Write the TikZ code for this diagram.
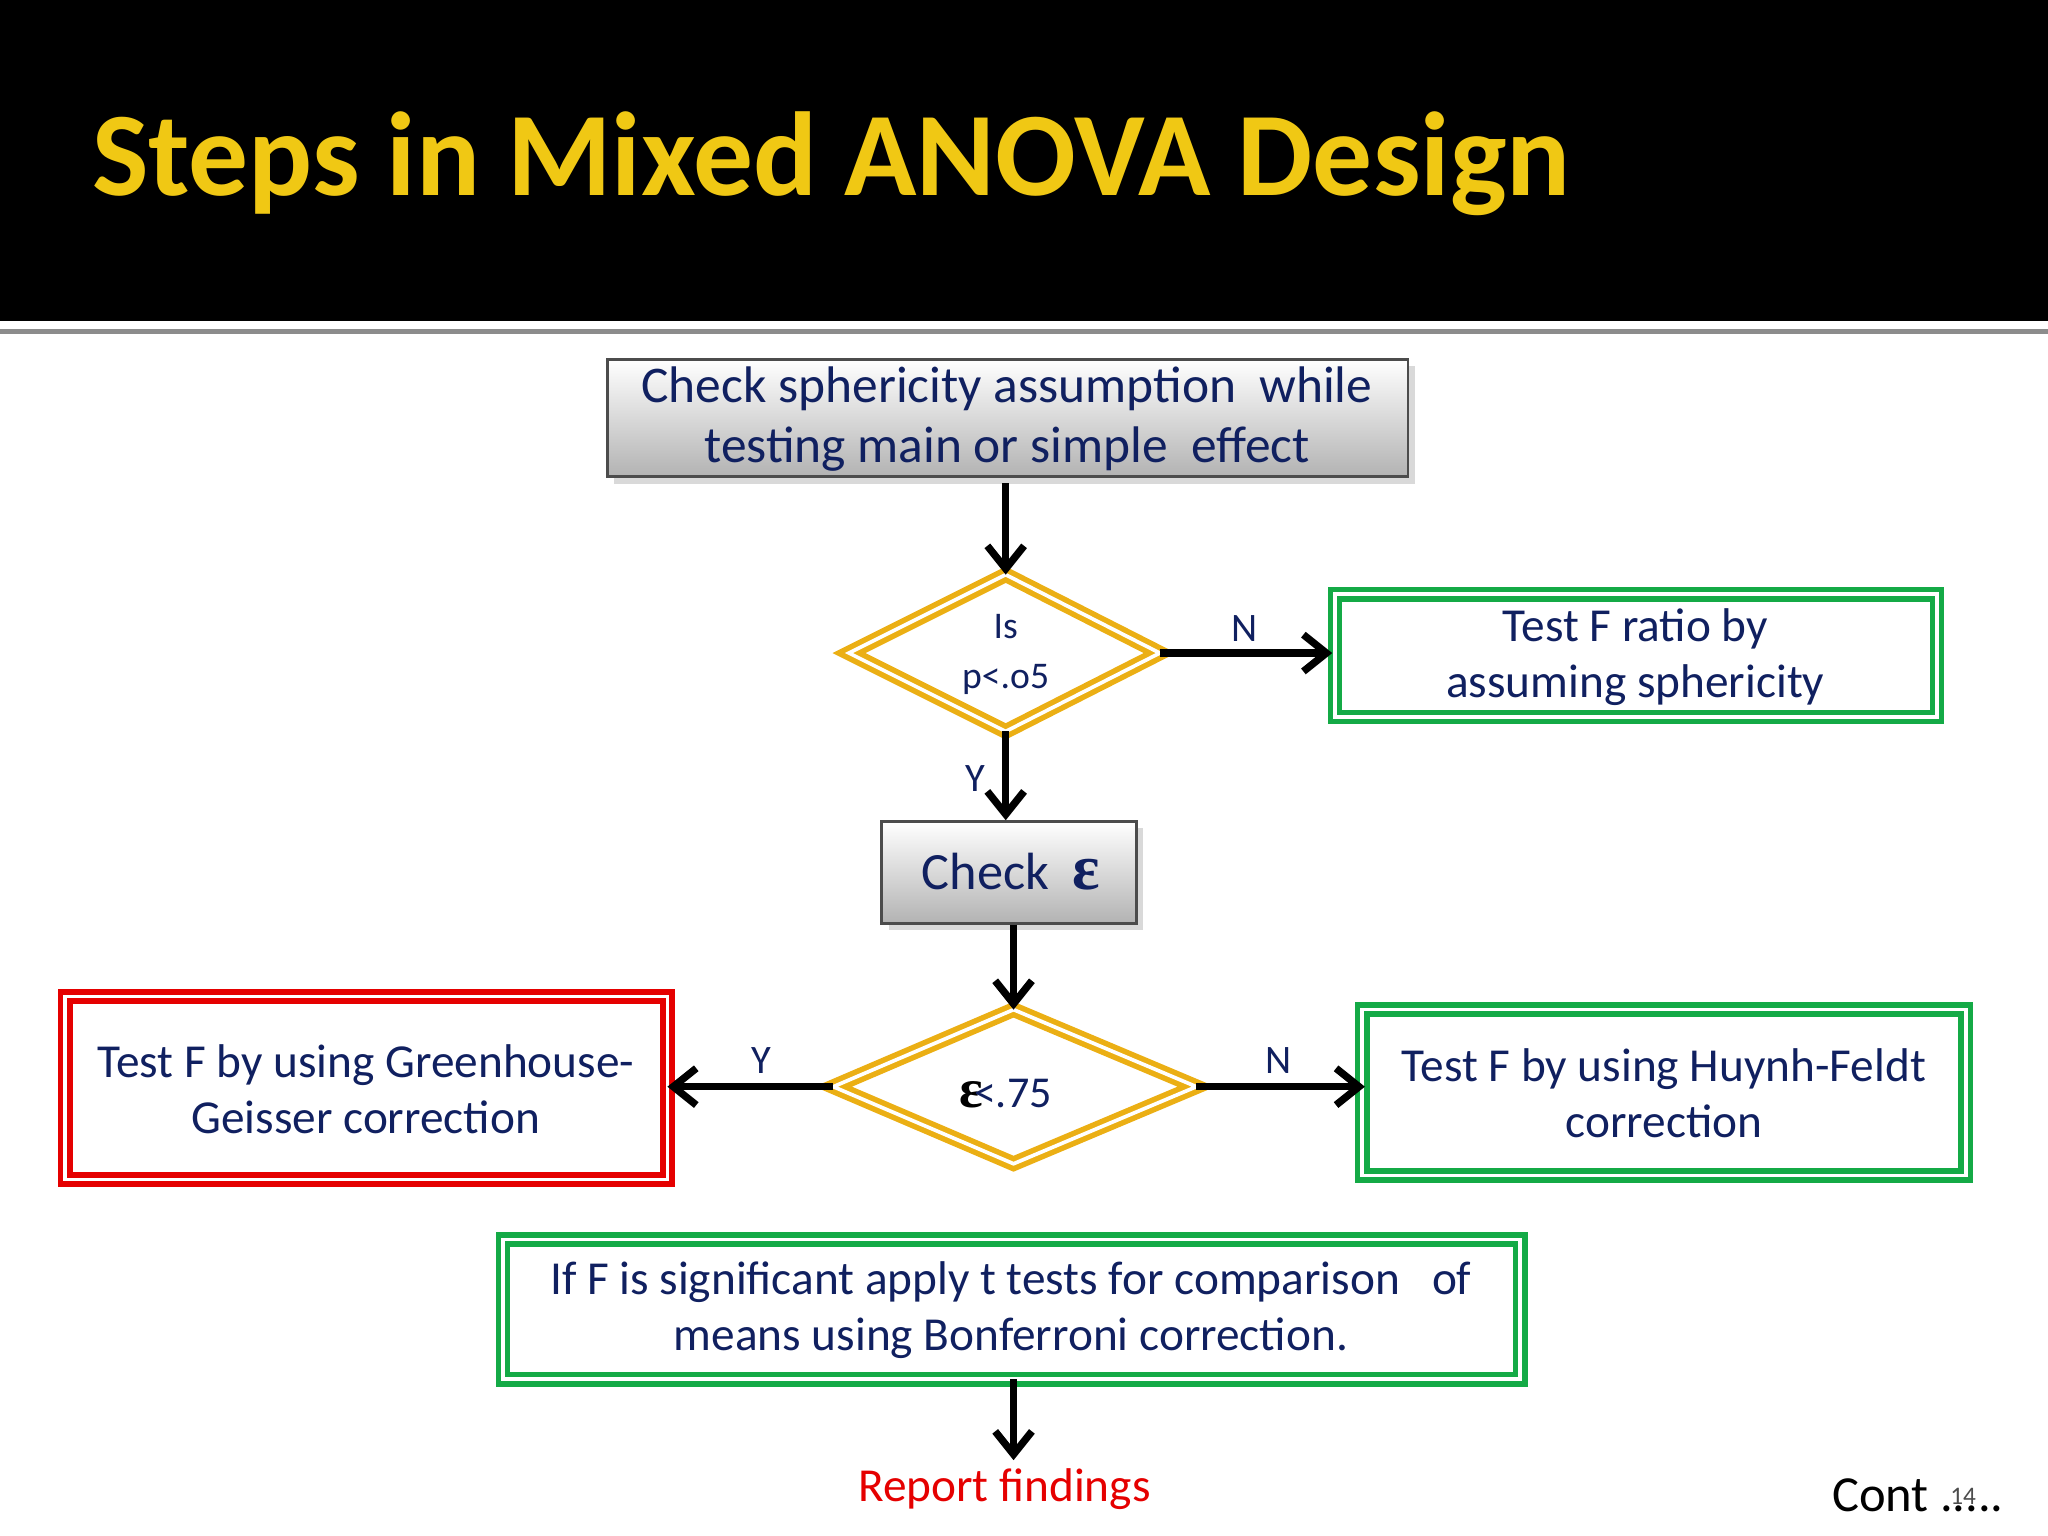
\documentclass[tikz,border=0pt]{standalone}
\usepackage{fontspec}
\setmainfont{Carlito}
\newfontfamily\serifb{Liberation Serif}
\usetikzlibrary{arrows.meta,shadows}
\definecolor{navy}{RGB}{16,32,96}
\definecolor{ttl}{RGB}{240,200,20}
\definecolor{grn}{RGB}{20,170,70}
\definecolor{org}{RGB}{235,175,20}
\begin{document}
\begin{tikzpicture}[x=0.01cm,y=-0.01cm,
  txt/.style={text=navy,font=\fontsize{10.3pt}{12.2pt}\selectfont,align=center},
  gbox/.style={draw=black!70,line width=0.6pt,top color=white,bottom color=black!30,drop shadow={opacity=0.3,shadow xshift=1.5pt,shadow yshift=-1.5pt}},
  dbl/.style={double=white,line width=1.2pt,double distance=0.8pt},
  arrs/.style={-{Straight Barb[length=5pt,width=8pt]},line width=1.6pt,black},
  lab/.style={text=navy,font=\fontsize{8.8pt}{10pt}\selectfont}]
\useasboundingbox (0,0) rectangle (1568,1176);
\fill[black] (0,0) rectangle (1568,246);
\draw[black!45,line width=1pt] (0,254) -- (1568,254);
\node[anchor=base west,text=ttl,font=\fontsize{26pt}{28pt}\selectfont\bfseries,inner sep=0] (title) at (70,150) {Steps in Mixed ANOVA Design};
% box 1
\path[gbox] (465,275) rectangle (1078,365);
\node[txt,font=\fontsize{11.2pt}{13pt}\selectfont] (b1) at (771,321) {Check sphericity assumption \ while\\testing main or simple \ effect};
% diamond 1
\coordinate (d1t) at (770,440); \coordinate (d1b) at (770,560);
\coordinate (d1l) at (650,500); \coordinate (d1r) at (888,500);
\draw[org,dbl,line join=miter] (d1t)--(d1r)--(d1b)--(d1l)--cycle;
\node[text=navy,font=\fontsize{8.2pt}{10.8pt}\selectfont,align=center] (d1) at (770,501) {Is\\p<.o5};
% box N1
\draw[grn,dbl] (1022,455) rectangle (1483,549);
\node[txt] (bn1) at (1252,503) {Test F ratio by\\assuming sphericity};
% check
\path[gbox] (675,629) rectangle (870,707);
\node[text=navy,font=\fontsize{11.4pt}{12pt}\selectfont,anchor=base west,inner sep=0] (chk) at (705,681) {Check \ {\serifb\bfseries\fontsize{14pt}{14pt}\selectfont ε}};
% diamond 2
\coordinate (d2t) at (776,773); \coordinate (d2b) at (776,891);
\coordinate (d2l) at (638,832); \coordinate (d2r) at (916,832);
\draw[org,dbl,line join=miter] (d2t)--(d2r)--(d2b)--(d2l)--cycle;
\node[text=navy,font=\fontsize{9.6pt}{11pt}\selectfont] (d2) at (770,837) {{\color{black}\serifb\bfseries\fontsize{12pt}{12pt}\selectfont ε}\kern-2pt<.75};
% red box
\draw[red!90!black,dbl] (50,763) rectangle (511,903);
\node[txt] (gg) at (280,834) {Test F by using Greenhouse-\\Geisser correction};
% green right
\draw[grn,dbl] (1043,773) rectangle (1505,900);
\node[txt] (hf) at (1274,837) {Test F by using Huynh-Feldt\\correction};
% bottom box
\draw[grn,dbl] (385,949) rectangle (1164,1056);
\node[txt] (bf) at (774,1003) {If F is significant apply t tests for comparison \ \ of\\means using Bonferroni correction.};
\node[text=red!90!black,font=\fontsize{10.3pt}{11pt}\selectfont] (rep) at (769,1140) {Report findings};
\node[font=\fontsize{11pt}{12pt}\selectfont,anchor=base west,inner sep=0] (cont) at (1402,1157) {Cont .....};
\node[text=black!70,font=\fontsize{5.5pt}{6pt}\selectfont,anchor=base,inner sep=0] (pg) at (1503,1152) {14};
% connectors
\coordinate (a1) at (770,370); \coordinate (a2) at (770,628);
\coordinate (a3) at (776,708); \coordinate (a4) at (776,1056);
\coordinate (a5) at (776,1118);
\draw[arrs] (a1) -- (d1t);
\draw[arrs] (d1r) -- (1020,500);
\draw[arrs] (d1b) -- (a2);
\draw[arrs] (a3) -- (d2t);
\draw[arrs] (d2l) -- (511,832);
\draw[arrs] (d2r) -- (1045,832);
\draw[arrs] (a4) -- (a5);
\node[lab] (n1) at (953,481) {N};
\node[lab] (y1) at (747,596) {Y};
\node[lab] (y2) at (583,812) {Y};
\node[lab] (n2) at (979,812) {N};
\end{tikzpicture}
\end{document}
